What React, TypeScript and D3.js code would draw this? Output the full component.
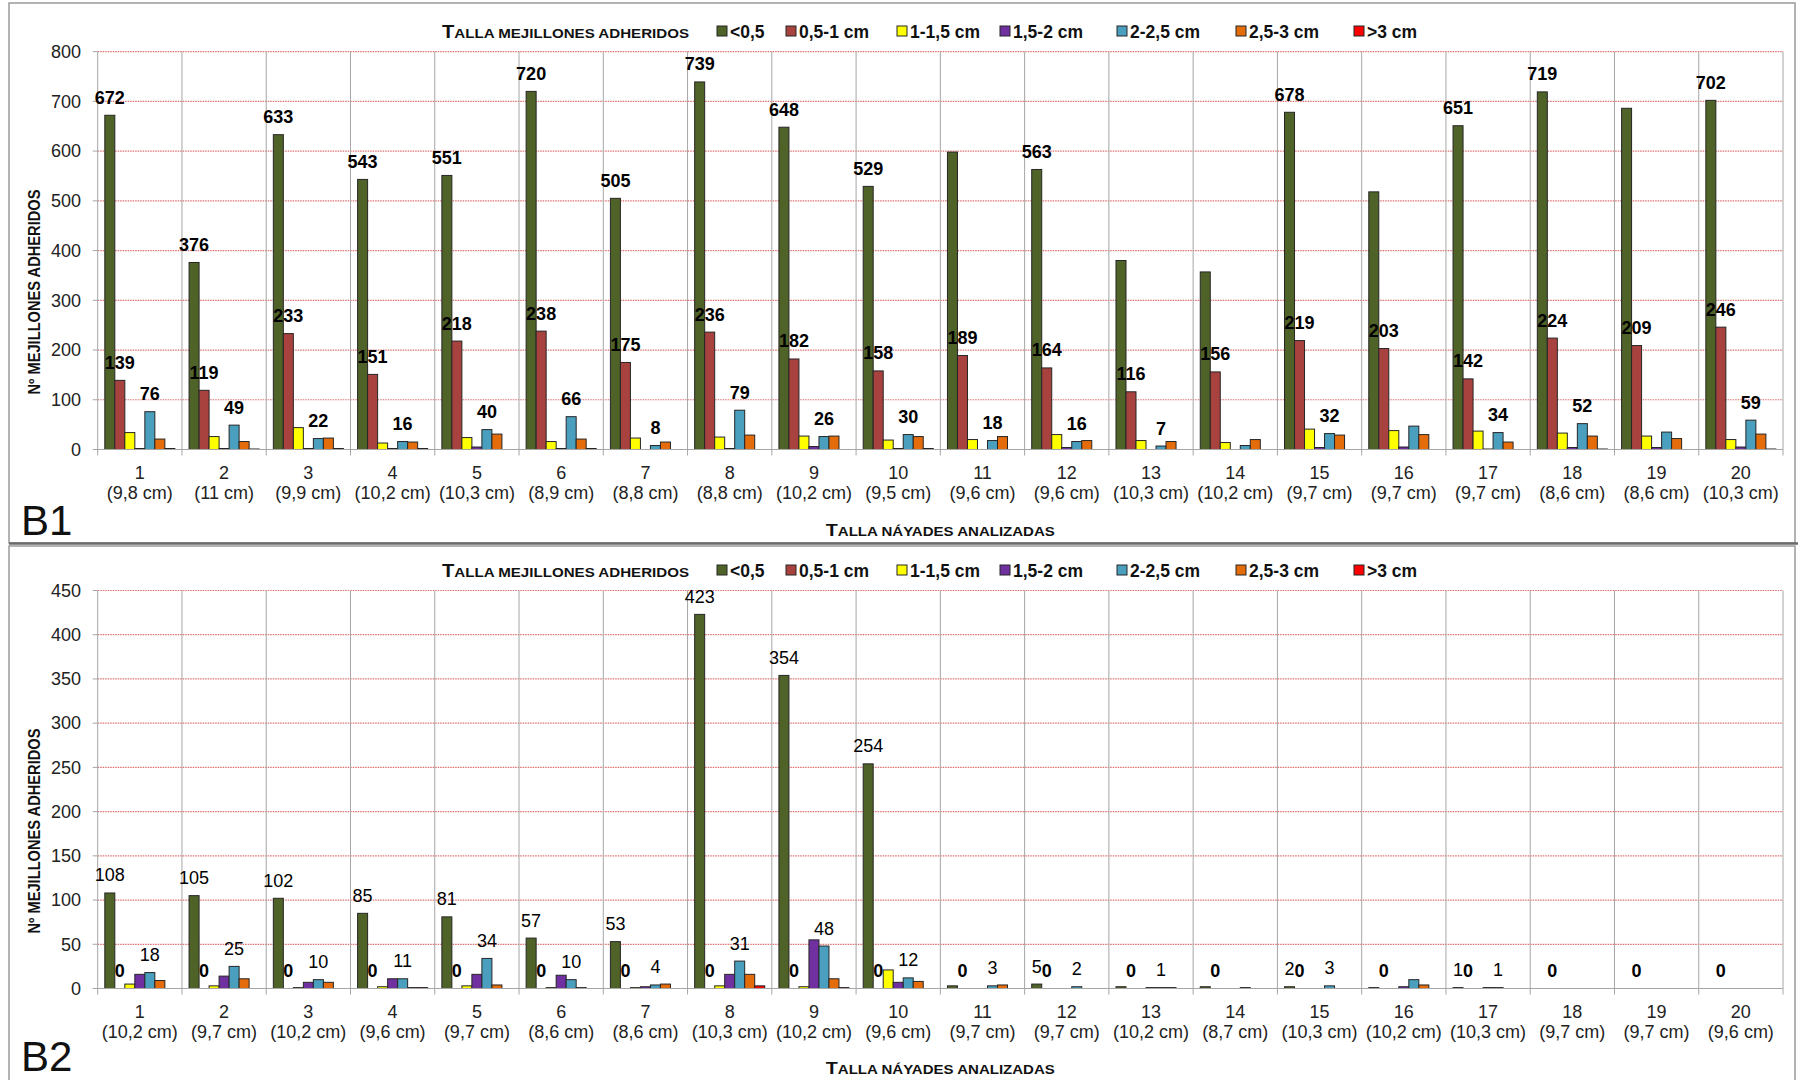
import React from "react";
import * as d3 from "d3";

// ---------- DATA ----------
const seriesNames = ["<0,5", "0,5-1 cm", "1-1,5 cm", "1,5-2 cm", "2-2,5 cm", "2,5-3 cm", ">3 cm"];
const seriesColors = ["#4F6228", "#A8423F", "#FFFF00", "#7030A0", "#4A9FBF", "#E46C0A", "#FF0000"];

const categories = d3.range(1, 21).map(String);
const b1Sizes = ["9,8", "11", "9,9", "10,2", "10,3", "8,9", "8,8", "8,8", "10,2", "9,5", "9,6", "9,6", "10,3", "10,2", "9,7", "9,7", "9,7", "8,6", "8,6", "10,3"];
const b2Sizes = ["10,2", "9,7", "10,2", "9,6", "9,7", "8,6", "8,6", "10,3", "10,2", "9,6", "9,7", "9,7", "10,2", "8,7", "10,3", "10,2", "10,3", "9,7", "9,7", "9,6"];

// B1 series
const b1Lt05 = [672, 376, 633, 543, 551, 720, 505, 739, 648, 529, 598, 563, 380, 357, 678, 518, 651, 719, 686, 702];
const b1_05_1 = [139, 119, 233, 151, 218, 238, 175, 236, 182, 158, 189, 164, 116, 156, 219, 203, 142, 224, 209, 246];
const b1_1_15 = [34, 26, 44, 13, 24, 16, 23, 25, 27, 19, 20, 30, 18, 14, 41, 38, 37, 33, 27, 20];
const b1_15_2 = [2, 2, 2, 2, 5, 2, 0, 2, 6, 2, 0, 4, 0, 0, 4, 5, 1, 4, 4, 5];
const b1_2_25 = [76, 49, 22, 16, 40, 66, 8, 79, 26, 30, 18, 16, 7, 8, 32, 47, 34, 52, 35, 59];
const b1_25_3 = [21, 16, 23, 15, 31, 21, 15, 29, 27, 26, 26, 18, 16, 20, 29, 30, 15, 27, 22, 31];
const b1Gt3 = [2, 1, 2, 2, 0, 2, 0, 0, 0, 2, 0, 0, 0, 0, 0, 0, 0, 1, 0, 1];

// B2 series
const b2Lt05 = [108, 105, 102, 85, 81, 57, 53, 423, 354, 254, 3, 5, 2, 2, 2, 1, 1, 0, 0, 0];
const b2_05_1 = [0, 0, 0, 0, 0, 0, 0, 0, 0, 0, 0, 0, 0, 0, 0, 0, 0, 0, 0, 0];
const b2_1_15 = [5, 3, 1, 2, 3, 1, 1, 3, 2, 21, 0, 0, 0, 0, 0, 0, 0, 0, 0, 0];
const b2_15_2 = [16, 14, 7, 11, 16, 15, 2, 16, 55, 7, 0, 0, 1, 0, 0, 2, 1, 0, 0, 0];
const b2_2_25 = [18, 25, 10, 11, 34, 10, 4, 31, 48, 12, 3, 2, 1, 1, 3, 10, 1, 0, 0, 0];
const b2_25_3 = [9, 11, 7, 1, 4, 1, 5, 16, 11, 8, 4, 0, 1, 0, 0, 4, 0, 0, 0, 0];
const b2Gt3 = [0, 0, 0, 1, 0, 0, 0, 3, 1, 0, 0, 0, 0, 0, 0, 0, 0, 0, 0, 0];

// which data labels are shown (category numbers)
const b1LabelLt05 = [1, 2, 3, 4, 5, 6, 7, 8, 9, 10, 12, 15, 17, 18, 20];
const b1Label05_1 = d3.range(1, 21);
const b1Label2_25 = [1, 2, 3, 4, 5, 6, 7, 8, 9, 10, 11, 12, 13, 15, 17, 18, 20];
const b2LabelLt05 = [1, 2, 3, 4, 5, 6, 7, 8, 9, 10, 12, 15, 17];
const b2Label05_1 = d3.range(1, 21);
const b2Label2_25 = [1, 2, 3, 4, 5, 6, 7, 8, 9, 10, 11, 12, 13, 15, 17];

const b1Ticks = [0, 100, 200, 300, 400, 500, 600, 700, 800];
const b2Ticks = [0, 50, 100, 150, 200, 250, 300, 350, 400, 450];

const FONT = "'Liberation Sans', Arial, sans-serif";

type LabelSpec = { series: number; cats: number[]; bold: boolean };

function Panel(props: {
  name: string;
  series: number[][];
  sizes: string[];
  ticks: number[];
  yMax: number;
  yTop: number;
  yBottom: number;
  labels: LabelSpec[];
  legendY: number;
  titleY: number;
  nameY: number;
  yTitleY: number;
}) {
  const { series, sizes, ticks, yMax, yTop, yBottom, labels } = props;
  const left = 97.7;
  const right = 1783;
  const x = d3.scaleBand<string>().domain(categories).range([left, right]).padding(0);
  const inner = d3
    .scaleBand<string>()
    .domain(seriesNames)
    .range([0, x.bandwidth()])
    .paddingInner(0)
    .paddingOuter(0.71);
  const y = d3.scaleLinear().domain([0, yMax]).range([yBottom, yTop]);

  const legendX = [717, 786, 897, 1000, 1117, 1236, 1354];

  return (
    <g>
      {/* horizontal grid */}
      {ticks.map((t) => (
        <line
          key={"g" + t}
          x1={left}
          x2={right}
          y1={y(t)}
          y2={y(t)}
          stroke={t === 0 ? "none" : "#E07070"}
          strokeWidth={1.2}
          strokeDasharray="1.5 1"
        />
      ))}
      {/* vertical category separators */}
      {categories.map((c) => (
        <line
          key={"v" + c}
          x1={(x(c) as number) + x.bandwidth()}
          x2={(x(c) as number) + x.bandwidth()}
          y1={yTop}
          y2={yBottom + 6}
          stroke="#A6A6A6"
          strokeWidth={1}
        />
      ))}
      {/* left axis */}
      <line x1={left} x2={left} y1={yTop} y2={yBottom + 6} stroke="#A6A6A6" strokeWidth={1} />
      {ticks.map((t) => (
        <line key={"tk" + t} x1={left - 5} x2={left} y1={y(t)} y2={y(t)} stroke="#A6A6A6" />
      ))}
      {ticks.map((t) => (
        <text
          key={"tl" + t}
          x={81}
          y={y(t)}
          dy="0.35em"
          textAnchor="end"
          fontFamily={FONT}
          fontSize={18}
          fill="#222"
        >
          {t}
        </text>
      ))}
      {/* bars */}
      {series.map((vals, si) =>
        vals.map((v, ci) =>
          v > 0 ? (
            <rect
              key={"b" + si + "-" + ci}
              x={(x(categories[ci]) as number) + (inner(seriesNames[si]) as number)}
              y={y(v)}
              width={inner.bandwidth()}
              height={y(0) - y(v)}
              fill={seriesColors[si]}
              stroke="#262626"
              strokeWidth={1}
            />
          ) : null
        )
      )}
      {/* bottom axis */}
      <line x1={left} x2={right} y1={yBottom} y2={yBottom} stroke="#A6A6A6" strokeWidth={1.2} />
      {/* data labels */}
      {labels.map((ls) =>
        ls.cats.map((c) => {
          const ci = c - 1;
          const v = series[ls.series][ci];
          const cx = (x(categories[ci]) as number) + (inner(seriesNames[ls.series]) as number) + inner.bandwidth() / 2;
          return (
            <text
              key={"dl" + ls.series + "-" + c}
              x={cx}
              y={y(v) - 11.5}
              textAnchor="middle"
              fontFamily={FONT}
              fontSize={18}
              fontWeight={ls.bold ? "bold" : "normal"}
              fill="#000"
            >
              {v}
            </text>
          );
        })
      )}
      {/* category labels */}
      {categories.map((c, i) => {
        const cx = (x(c) as number) + x.bandwidth() / 2;
        return (
          <g key={"cl" + c}>
            <text x={cx} y={yBottom + 29} textAnchor="middle" fontFamily={FONT} fontSize={18} fill="#222">
              {c}
            </text>
            <text x={cx} y={yBottom + 49.5} textAnchor="middle" fontFamily={FONT} fontSize={18} fill="#222">
              {"(" + sizes[i] + " cm)"}
            </text>
          </g>
        );
      })}
      {/* legend */}
      <text x={442} y={props.legendY + 6.5} fontFamily={FONT} fontWeight="bold" fill="#111" textLength={247} lengthAdjust="spacingAndGlyphs">
        <tspan fontSize={18}>T</tspan>
        <tspan fontSize={13.5}>ALLA MEJILLONES ADHERIDOS</tspan>
      </text>
      {seriesNames.map((s, i) => (
        <g key={"lg" + s}>
          <rect
            x={legendX[i]}
            y={props.legendY - 5}
            width={10}
            height={10}
            fill={seriesColors[i]}
            stroke="#262626"
            strokeWidth={1}
          />
          <text x={legendX[i] + 13} y={props.legendY + 6.5} fontFamily={FONT} fontWeight="bold" fontSize={17.5} fill="#111">
            {s}
          </text>
        </g>
      ))}
      {/* x title */}
      <text
        x={(left + right) / 2}
        y={props.titleY + 6}
        textAnchor="middle"
        fontFamily={FONT}
        fontWeight="bold"
        fill="#111"
        textLength={229}
        lengthAdjust="spacingAndGlyphs"
      >
        <tspan fontSize={17}>T</tspan>
        <tspan fontSize={13}>ALLA NÁYADES ANALIZADAS</tspan>
      </text>
      {/* y title */}
      <text
        transform={`translate(40,${props.yTitleY}) rotate(-90)`}
        textAnchor="middle"
        fontFamily={FONT}
        fontWeight="bold"
        fontSize={16}
        fill="#111"
        textLength={205}
        lengthAdjust="spacingAndGlyphs"
      >
        Nº MEJILLONES ADHERIDOS
      </text>
      {/* panel name */}
      <text x={21} y={props.nameY} fontFamily={FONT} fontSize={42} fill="#111">
        {props.name}
      </text>
    </g>
  );
}

export default function App() {
  const b1Series = [b1Lt05, b1_05_1, b1_1_15, b1_15_2, b1_2_25, b1_25_3, b1Gt3];
  const b2Series = [b2Lt05, b2_05_1, b2_1_15, b2_15_2, b2_2_25, b2_25_3, b2Gt3];
  return (
    <svg
      width={1798}
      height={1080}
      style={{ position: "absolute", left: 0, top: 0, background: "#fff" }}
    >
      <rect x={0} y={0} width={1798} height={1080} fill="#fff" />
      {/* panel frames */}
      <rect x={9} y={3} width={1786} height={540} fill="#fff" stroke="#9A9A9A" strokeWidth={1.5} />
      <rect x={9} y={546} width={1786} height={540} fill="#fff" stroke="#9A9A9A" strokeWidth={1.5} />
      <line x1={9} x2={1798} y1={543.5} y2={543.5} stroke="#6A6A6A" strokeWidth={2.5} />
      <Panel
        name="B1"
        series={b1Series}
        sizes={b1Sizes}
        ticks={b1Ticks}
        yMax={800}
        yTop={51.6}
        yBottom={449.5}
        labels={[
          { series: 0, cats: b1LabelLt05, bold: true },
          { series: 1, cats: b1Label05_1, bold: true },
          { series: 4, cats: b1Label2_25, bold: true },
        ]}
        legendY={31}
        titleY={530}
        nameY={535}
        yTitleY={292}
      />
      <Panel
        name="B2"
        series={b2Series}
        sizes={b2Sizes}
        ticks={b2Ticks}
        yMax={450}
        yTop={590.5}
        yBottom={988.5}
        labels={[
          { series: 0, cats: b2LabelLt05, bold: false },
          { series: 1, cats: b2Label05_1, bold: true },
          { series: 4, cats: b2Label2_25, bold: false },
        ]}
        legendY={570}
        titleY={1068}
        nameY={1071}
        yTitleY={831}
      />
    </svg>
  );
}
